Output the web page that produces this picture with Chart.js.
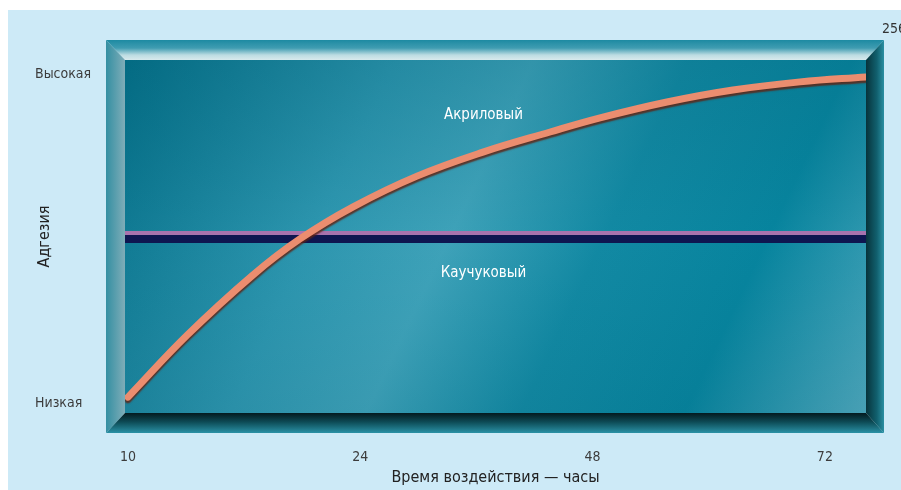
<!DOCTYPE html>
<html lang="ru">
<head>
  <meta charset="UTF-8">
  <title>Адгезия</title>
  <script src="https://cdn.jsdelivr.net/npm/chart.js"></script>
  <style>
    body { margin: 0; background: #fff; }
    canvas { display: block; }
  </style>
</head>
<body>
  <canvas id="chart" width="901" height="490"></canvas>

  <script>
    // ticks (x ticks are equally spaced, so x runs on tick index)
    const xTickLabels = ["10", "24", "48", "72"];
    const xTickPos = [0, 1, 2, 3];
    const yTickLabels = ["Низкая", "Высокая"];
    const yTickPos = [2.8, 95.8];

    const seriesNames = ["Акриловый", "Каучуковый"];
    const acrylX = [0, 0.254, 0.538, 0.740, 0.969, 1.244, 1.528, 1.817, 2.032, 2.320, 2.604, 2.893, 3.177];
    const acrylY = [4.5, 22.0, 39.1, 49.3, 58.4, 67.1, 73.9, 79.6, 83.6, 88.1, 91.5, 93.8, 95.2];
    const rubberX = [-0.013, 3.177];
    const rubberY = [49.3, 49.3];

    const FONT = '"Liberation Sans Narrow", "DejaVu Sans Condensed", "Roboto", sans-serif';

    const panel = {
      id: "panel",
      beforeDraw(chart) {
        const ctx = chart.ctx;
        const a = chart.chartArea;
        ctx.save();
        // page background
        ctx.fillStyle = "#cdeaf7";
        ctx.fillRect(8, 10, chart.width - 8, chart.height - 10);

        const ox1 = a.left - 19, oy1 = a.top - 20, ox2 = a.right + 18, oy2 = a.bottom + 20;
        const ix1 = a.left, iy1 = a.top, ix2 = a.right, iy2 = a.bottom;

        function quad(pts, fill) {
          ctx.beginPath();
          ctx.moveTo(pts[0], pts[1]);
          for (let i = 2; i < pts.length; i += 2) ctx.lineTo(pts[i], pts[i + 1]);
          ctx.closePath();
          ctx.fillStyle = fill;
          ctx.fill();
        }

        // top bevel
        let g = ctx.createLinearGradient(0, oy1, 0, iy1);
        g.addColorStop(0, "#1d8aa2");
        g.addColorStop(0.4, "#3f9cb1");
        g.addColorStop(0.75, "#bcdce2");
        g.addColorStop(1, "#d8eaed");
        quad([ox1, oy1, ox2, oy1, ix2, iy1, ix1, iy1], g);
        // left bevel
        g = ctx.createLinearGradient(ox1, 0, ix1, 0);
        g.addColorStop(0, "#348fa2");
        g.addColorStop(1, "#7fadb8");
        quad([ox1, oy1, ix1, iy1, ix1, iy2, ox1, oy2], g);
        // right bevel
        g = ctx.createLinearGradient(ix2, 0, ox2, 0);
        g.addColorStop(0, "#07333b");
        g.addColorStop(0.6, "#11606e");
        g.addColorStop(1, "#2a8fa2");
        quad([ox2, oy1, ox2, oy2, ix2, iy2, ix2, iy1], g);
        // bottom bevel
        g = ctx.createLinearGradient(0, iy2, 0, oy2);
        g.addColorStop(0, "#041a1f");
        g.addColorStop(0.45, "#0d4b56");
        g.addColorStop(1, "#2a92a6");
        quad([ox1, oy2, ix1, iy2, ix2, iy2, ox2, oy2], g);

        // inner face
        g = ctx.createLinearGradient(ix1, iy1, ix2, iy2);
        g.addColorStop(0, "#046f88");
        g.addColorStop(0.3, "#2d96af");
        g.addColorStop(0.45, "#3ea2b9");
        g.addColorStop(0.62, "#1289a3");
        g.addColorStop(0.8, "#07849e");
        g.addColorStop(1, "#4ea8bd");
        ctx.fillStyle = g;
        ctx.fillRect(ix1, iy1, ix2 - ix1, iy2 - iy1);
        g = ctx.createLinearGradient(0, iy1, 0, iy2);
        g.addColorStop(0, "rgba(0,90,110,0.2)");
        g.addColorStop(0.5, "rgba(0,90,110,0)");
        g.addColorStop(1, "rgba(0,60,80,0.08)");
        ctx.fillStyle = g;
        ctx.fillRect(ix1, iy1, ix2 - ix1, iy2 - iy1);
        ctx.restore();
      },
      beforeDatasetDraw(chart, args) {
        const ctx = chart.ctx;
        ctx.save();
        if (args.index === 0) {
          ctx.shadowColor = "rgba(95,35,20,0.85)";
          ctx.shadowOffsetY = 2.5;
          ctx.shadowBlur = 1.5;
        } else {
          ctx.shadowColor = "#a873ad";
          ctx.shadowOffsetY = -3.5;
          ctx.shadowBlur = 0.5;
        }
      },
      afterDatasetDraw(chart) {
        chart.ctx.restore();
      },
      afterDraw(chart) {
        const ctx = chart.ctx;
        const x = chart.scales.x, y = chart.scales.y;
        ctx.save();
        ctx.fillStyle = "#ffffff";
        ctx.font = "15px " + FONT;
        ctx.textAlign = "center";
        ctx.textBaseline = "middle";
        ctx.fillText(seriesNames[0], x.getPixelForValue(1.53), y.getPixelForValue(84.4));
        ctx.fillText(seriesNames[1], x.getPixelForValue(1.53), y.getPixelForValue(39.7));
        ctx.fillStyle = "#333";
        ctx.font = "14px " + FONT;
        ctx.textAlign = "left";
        ctx.fillText("256", 882, 29);
        ctx.restore();
      }
    };

    const ctx = document.getElementById("chart").getContext("2d");
    new Chart(ctx, {
      type: "line",
      data: {
        datasets: [{
          label: seriesNames[0],
          data: acrylX.map((v, i) => ({ x: v, y: acrylY[i] })),
          borderColor: "#eb8d6f",
          borderWidth: 7,
          pointRadius: 0,
          tension: 0.4,
          borderCapStyle: "round"
        }, {
          label: seriesNames[1],
          data: rubberX.map((v, i) => ({ x: v, y: rubberY[i] })),
          borderColor: "#0e1650",
          borderWidth: 8,
          pointRadius: 0
        }]
      },
      options: {
        responsive: false,
        animation: false,
        devicePixelRatio: 1,
        layout: { padding: { left: 35, top: 60, right: 35, bottom: 0 } },
        plugins: { legend: { display: false }, tooltip: { enabled: false } },
        scales: {
          x: {
            type: "linear",
            min: -0.013,
            max: 3.177,
            grid: { display: false, drawTicks: false },
            border: { display: false },
            afterBuildTicks: s => { s.ticks = xTickPos.map(v => ({ value: v })); },
            afterFit: s => { s.height = 77; },
            ticks: {
              padding: 36,
              color: "#3c3c3c",
              font: { family: FONT, size: 14 },
              callback: (v) => xTickLabels[xTickPos.indexOf(v)]
            },
            title: {
              display: true,
              text: "Время воздействия — часы",
              color: "#222",
              font: { family: FONT, size: 16 },
              padding: { top: 0, bottom: 3 }
            }
          },
          y: {
            min: 0,
            max: 100,
            grid: { display: false, drawTicks: false },
            border: { display: false },
            afterBuildTicks: s => { s.ticks = yTickPos.map(v => ({ value: v })); },
            afterFit: s => { s.width = 90; },
            ticks: {
              crossAlign: "far",
              color: "#3c3c3c",
              font: { family: FONT, size: 14 },
              callback: (v) => yTickLabels[yTickPos.indexOf(v)]
            },
            title: {
              display: true,
              text: "Адгезия",
              color: "#222",
              font: { family: FONT, size: 16 },
              padding: 0
            }
          }
        }
      },
      plugins: [panel]
    });
  </script>
</body>
</html>
